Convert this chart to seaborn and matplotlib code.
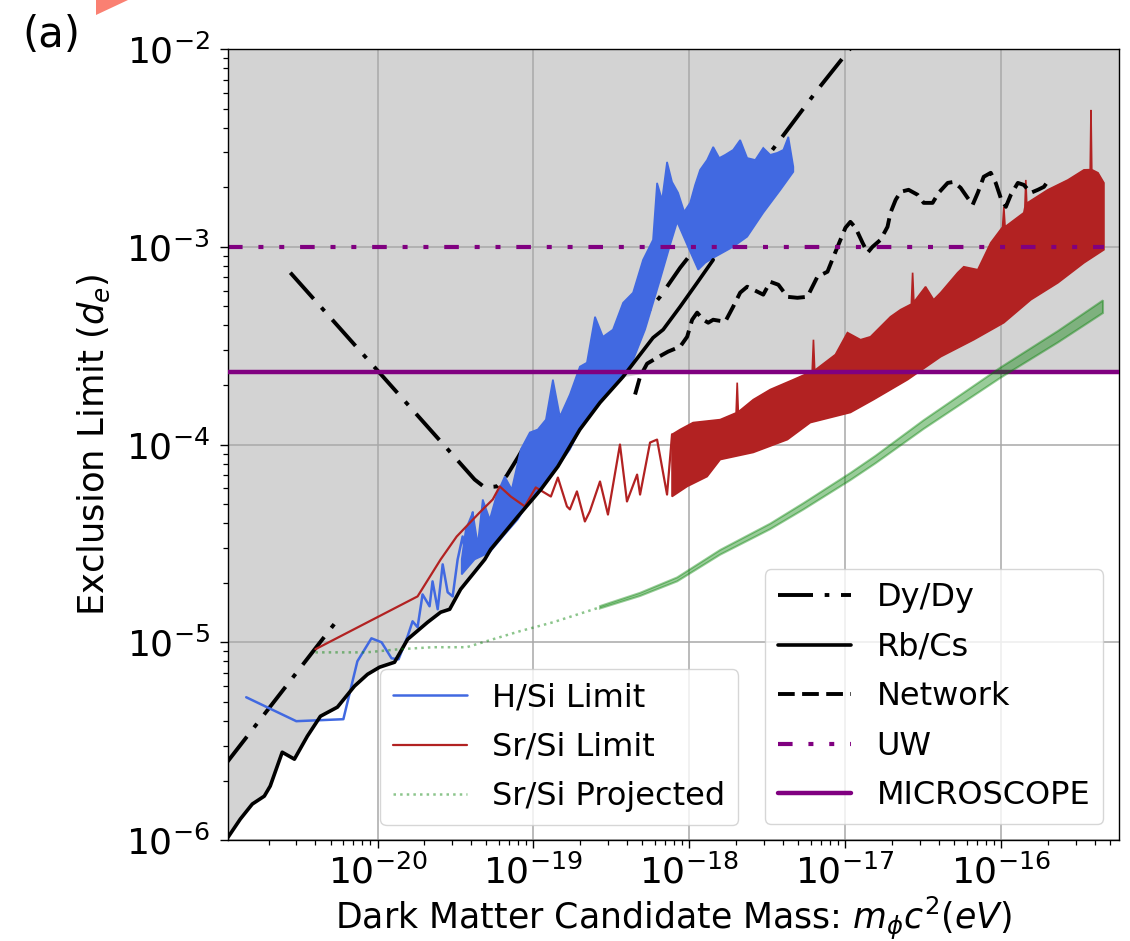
import numpy as np
import matplotlib
matplotlib.use("Agg")
import matplotlib.pyplot as plt
from matplotlib.patches import Polygon
from matplotlib.ticker import NullFormatter, FixedLocator
import seaborn as sns

# ---------------- data (log10 of mass in eV, log10 of d_e limit) ----------------
rbcs_log_mass = [-20.975, -20.880, -20.803, -20.726, -20.688, -20.611, -20.533, -20.450,
                 -20.366, -20.257, -20.148, -20.064, -19.987, -19.891, -19.807, -19.679,
                 -19.595, -19.537, -19.467, -19.312, -19.274, -19.100, -18.952, -18.843,
                 -18.702, -18.573, -18.425, -18.233, -18.168, -18.059, -17.950, -17.847]
rbcs_log_limit = [-6.005, -5.894, -5.818, -5.778, -5.727, -5.556, -5.591, -5.475,
                  -5.374, -5.328, -5.222, -5.162, -5.126, -5.101, -4.985, -4.899,
                  -4.848, -4.833, -4.732, -4.581, -4.530, -4.364, -4.227, -4.111,
                  -3.924, -3.788, -3.657, -3.460, -3.419, -3.303, -3.182, -3.066]

dydy_low_log_mass = [-20.975, -20.244]
dydy_low_log_limit = [-5.617, -4.874]
dydy_high_log_mass = [-20.559, -19.377, -19.312, -19.235, -19.171, -19.100, -19.036, -18.959,
                      -18.856, -18.188, -18.059, -17.564, -17.371, -17.179, -16.970]
dydy_high_log_limit = [-3.131, -4.177, -4.217, -4.212, -4.157, -4.066, -3.980, -3.924,
                       -3.889, -3.253, -3.106, -2.611, -2.409, -2.207, -2.000]

network_log_mass = [-18.348, -18.316, -18.271, -18.207, -18.136, -18.059, -18.014, -17.982,
                    -17.950, -17.911, -17.879, -17.847, -17.770, -17.719, -17.674, -17.629,
                    -17.564, -17.526, -17.481, -17.429, -17.371, -17.307, -17.243, -17.179,
                    -17.114, -17.076, -17.031, -16.999, -16.967, -16.934, -16.889, -16.857,
                    -16.825, -16.774, -16.729, -16.710, -16.677, -16.645, -16.594, -16.536,
                    -16.497, -16.440, -16.401, -16.343, -16.305, -16.260, -16.215, -16.183,
                    -16.150, -16.112, -16.067, -16.035, -16.003, -15.970, -15.938, -15.893,
                    -15.855, -15.810, -15.765, -15.726, -15.694]
network_log_limit = [-3.747, -3.657, -3.591, -3.561, -3.530, -3.505, -3.455, -3.369,
                     -3.333, -3.369, -3.384, -3.369, -3.379, -3.303, -3.232, -3.202,
                     -3.227, -3.242, -3.177, -3.192, -3.253, -3.258, -3.253, -3.152,
                     -3.126, -3.051, -2.965, -2.904, -2.874, -2.904, -2.980, -3.030,
                     -3.000, -2.965, -2.899, -2.828, -2.763, -2.722, -2.712, -2.737,
                     -2.778, -2.778, -2.727, -2.677, -2.672, -2.702, -2.753, -2.788,
                     -2.727, -2.646, -2.626, -2.677, -2.753, -2.798, -2.737, -2.677,
                     -2.687, -2.727, -2.712, -2.697, -2.662]

uw_mass = [1.1e-21, 4.56e-16]
uw_limit = [1e-3, 1e-3]
microscope_limit = 2.34e-4

# H/Si limit: resolved low-mass trace, then dense band (upper / lower envelope)
hsi_log_mass = [-20.842, -20.521, -20.219, -20.129, -20.039, -19.974, -19.910, -19.865,
                -19.807, -19.775, -19.743, -19.711, -19.666, -19.647, -19.614, -19.582,
                -19.550, -19.518, -19.486, -19.454, -19.422, -19.389]
hsi_log_limit = [-5.278, -5.399, -5.389, -5.096, -4.980, -5.000, -5.081, -5.086,
                 -4.970, -4.894, -4.924, -4.758, -4.818, -4.692, -4.833, -4.606,
                 -4.747, -4.768, -4.581, -4.465, -4.616, -4.343]
hsi_upper_log_mass = [-19.460, -19.434, -19.389, -19.357, -19.325, -19.280, -19.235, -19.184,
                      -19.139, -19.081, -19.023, -18.972, -18.920, -18.875, -18.830, -18.766,
                      -18.702, -18.657, -18.605, -18.554, -18.490, -18.425, -18.361, -18.297,
                      -18.233, -18.207, -18.175, -18.143, -18.111, -18.072, -18.033, -17.995,
                      -17.963, -17.931, -17.886, -17.847, -17.808, -17.770, -17.719, -17.674,
                      -17.629, -17.577, -17.526, -17.481, -17.436, -17.397, -17.365, -17.333]
hsi_upper_log_limit = [-4.581, -4.429, -4.343, -4.505, -4.278, -4.379, -4.253, -4.162,
                       -4.227, -4.025, -3.939, -3.924, -3.874, -3.672, -3.859, -3.747,
                       -3.606, -3.586, -3.354, -3.455, -3.419, -3.283, -3.232, -3.066,
                       -2.965, -2.677, -2.763, -2.571, -2.672, -2.727, -2.823, -2.778,
                       -2.687, -2.611, -2.561, -2.495, -2.551, -2.535, -2.510, -2.460,
                       -2.551, -2.561, -2.500, -2.535, -2.525, -2.510, -2.444, -2.596]
hsi_lower_log_mass = [-19.460, -19.377, -19.280, -19.184, -19.100, -19.023, -18.952, -18.843,
                      -18.766, -18.702, -18.573, -18.477, -18.380, -18.284, -18.188, -18.123,
                      -18.078, -18.014, -17.943, -17.898, -17.847, -17.719, -17.629, -17.526,
                      -17.416, -17.333]
hsi_lower_log_limit = [-4.657, -4.581, -4.545, -4.455, -4.379, -4.278, -4.227, -4.111,
                       -4.025, -3.924, -3.788, -3.697, -3.611, -3.419, -3.167, -2.990,
                       -2.874, -2.990, -3.116, -3.081, -3.056, -3.000, -2.949, -2.828,
                       -2.712, -2.621]

# Sr/Si limit
srsi_log_mass = [-20.398, -19.743, -19.595, -19.492, -19.344, -19.261, -19.216, -19.145,
                 -19.055, -18.985, -18.888, -18.843, -18.785, -18.766, -18.721, -18.670,
                 -18.638, -18.573, -18.522, -18.445, -18.400, -18.335, -18.316, -18.252,
                 -18.207, -18.143, -18.111]
srsi_log_limit = [-5.035, -4.768, -4.581, -4.465, -4.343, -4.278, -4.212, -4.263,
                  -4.313, -4.217, -4.263, -4.167, -4.313, -4.328, -4.237, -4.389,
                  -4.338, -4.187, -4.354, -4.000, -4.288, -4.152, -4.253, -3.990,
                  -3.975, -4.253, -3.949]
srsi_upper_log_mass = [-18.111, -18.059, -17.976, -17.802, -17.700, -17.693, -17.686, -17.590,
                       -17.481, -17.333, -17.212, -17.204, -17.196, -17.063, -16.986, -16.902,
                       -16.838, -16.710, -16.645, -16.576, -16.568, -16.560, -16.485, -16.433,
                       -16.388, -16.279, -16.240, -16.150, -16.067, -15.991, -15.983, -15.975,
                       -15.855, -15.848, -15.842, -15.836, -15.701, -15.572, -15.469, -15.429,
                       -15.424, -15.419, -15.379, -15.341]
srsi_upper_log_limit = [-3.949, -3.924, -3.889, -3.874, -3.840, -3.687, -3.835, -3.773,
                        -3.722, -3.672, -3.630, -3.470, -3.625, -3.545, -3.434, -3.470,
                        -3.455, -3.354, -3.318, -3.290, -3.131, -3.280, -3.202, -3.268,
                        -3.232, -3.131, -3.101, -3.116, -2.980, -2.900, -2.798, -2.899,
                        -2.828, -2.800, -2.662, -2.780, -2.712, -2.662, -2.611, -2.610,
                        -2.308, -2.610, -2.626, -2.677]
srsi_lower_log_mass = [-18.111, -18.014, -17.886, -17.802, -17.590, -17.371, -17.224, -16.967,
                       -16.819, -16.600, -16.388, -16.176, -15.983, -15.810, -15.636, -15.469,
                       -15.341]
srsi_lower_log_limit = [-4.263, -4.212, -4.162, -4.076, -4.040, -3.975, -3.889, -3.838,
                        -3.773, -3.672, -3.556, -3.470, -3.384, -3.268, -3.182, -3.081,
                        -3.015]

# Sr/Si projected
proj_log_mass = [-20.398, -20.071, -19.859, -19.647, -19.428, -19.261, -19.087, -18.875,
                 -18.573]
proj_log_limit = [-5.051, -5.051, -5.035, -5.025, -5.025, -4.985, -4.944, -4.899,
                  -4.823]
proj_band_log_mass = [-18.573, -18.316, -18.078, -17.802, -17.481, -17.269, -16.967, -16.806,
                      -16.497, -16.003, -15.636, -15.347]
proj_band_upper = [-4.817, -4.750, -4.672, -4.533, -4.400, -4.297, -4.144, -4.057,
                   -3.877, -3.610, -3.426, -3.271]
proj_band_lower = [-4.829, -4.766, -4.692, -4.557, -4.428, -4.329, -4.180, -4.095,
                   -3.921, -3.662, -3.484, -3.335]

x_limits = (1.1e-21, 5.7e-16)
y_limits = (1e-6, 1e-2)
x_major_ticks = [1e-20, 1e-19, 1e-18, 1e-17, 1e-16]
y_major_ticks = [1e-6, 1e-5, 1e-4, 1e-3, 1e-2]

legend_main = ["Dy/Dy", "Rb/Cs", "Network", "UW", "MICROSCOPE"]
legend_this = ["H/Si Limit", "Sr/Si Limit", "Sr/Si Projected"]


def p10(a):
    return 10.0 ** np.asarray(a, dtype=float)


# ---------------- style ----------------
sns.set_style("ticks")
plt.rcParams['font.family'] = ['DejaVu Sans']
plt.rcParams['mathtext.fontset'] = 'dejavusans'
for key in ['text.color', 'axes.labelcolor', 'xtick.color', 'ytick.color', 'axes.edgecolor']:
    plt.rcParams[key] = 'black'

fig = plt.figure(figsize=(11.3, 9.41), dpi=100)
ax = fig.add_axes([0.2018, 0.1073, 0.7885, 0.8406])
ax.set_xscale('log')
ax.set_yscale('log')
ax.set_xlim(*x_limits)
ax.set_ylim(*y_limits)

PURPLE = '#800080'
BLUE = 'royalblue'
RED = 'firebrick'
GREEN = 'green'

# excluded (gray) region: above min(Rb/Cs, MICROSCOPE)
rb_m = p10(rbcs_log_mass)
rb_d = p10(rbcs_log_limit)
fill_x = np.append(rb_m, x_limits[1])
fill_y = np.append(np.minimum(rb_d, microscope_limit), microscope_limit)
ax.fill_between(fill_x, fill_y, y_limits[1], color='lightgray', lw=0, zorder=0.3)

ax.grid(True, which='major', color='#a8a8a8', lw=1.1, zorder=0.6)
ax.set_axisbelow(True)

handles = {}

# Dy/Dy
sns.lineplot(x=p10(dydy_low_log_mass), y=p10(dydy_low_log_limit), ax=ax, color='black',
             lw=2.8, linestyle=(0, (9, 3, 1.2, 3)), sort=False, estimator=None, zorder=2.0)
sns.lineplot(x=p10(dydy_high_log_mass), y=p10(dydy_high_log_limit), ax=ax, color='black',
             lw=2.8, linestyle=(0, (9, 3, 1.2, 3)), sort=False, estimator=None, zorder=2.0)
handles["Dy/Dy"] = ax.lines[-1]

# H/Si
sns.lineplot(x=p10(hsi_log_mass), y=p10(hsi_log_limit), ax=ax, color=BLUE, lw=1.8,
             sort=False, estimator=None, zorder=2.1)
handles["H/Si Limit"] = ax.lines[-1]
bx = np.concatenate([p10(hsi_upper_log_mass), p10(hsi_lower_log_mass)[::-1]])
by = np.concatenate([p10(hsi_upper_log_limit), p10(hsi_lower_log_limit)[::-1]])
ax.fill(bx, by, color=BLUE, lw=1.2, zorder=2.1)

# Sr/Si
sns.lineplot(x=p10(srsi_log_mass), y=p10(srsi_log_limit), ax=ax, color=RED, lw=1.6,
             sort=False, estimator=None, zorder=2.2)
handles["Sr/Si Limit"] = ax.lines[-1]
rx = np.concatenate([p10(srsi_upper_log_mass), p10(srsi_lower_log_mass)[::-1]])
ry = np.concatenate([p10(srsi_upper_log_limit), p10(srsi_lower_log_limit)[::-1]])
ax.fill(rx, ry, color=RED, lw=1.2, zorder=2.2)

# Rb/Cs
sns.lineplot(x=rb_m, y=rb_d, ax=ax, color='black', lw=2.6, sort=False,
             estimator=None, zorder=2.3)
handles["Rb/Cs"] = ax.lines[-1]

# Network
sns.lineplot(x=p10(network_log_mass), y=p10(network_log_limit), ax=ax, color='black',
             lw=2.8, linestyle=(0, (4.3, 1.9)), sort=False, estimator=None, zorder=2.4)
handles["Network"] = ax.lines[-1]

# UW
sns.lineplot(x=uw_mass, y=uw_limit, ax=ax, color=PURPLE, lw=3.0,
             linestyle=(0, (3.5, 3.8, 1.2, 3.8, 1.2, 3.8)), sort=False, estimator=None,
             zorder=2.5)
handles["UW"] = ax.lines[-1]

# MICROSCOPE
handles["MICROSCOPE"] = ax.axhline(microscope_limit, color=PURPLE, lw=3.2, zorder=2.6)

# Sr/Si projected
sns.lineplot(x=p10(proj_log_mass), y=p10(proj_log_limit), ax=ax, color=GREEN, alpha=0.45,
             lw=1.8, linestyle=':', sort=False, estimator=None, zorder=2.7)
handles["Sr/Si Projected"] = ax.lines[-1]
gx = np.concatenate([p10(proj_band_log_mass), p10(proj_band_log_mass)[::-1]])
gy = np.concatenate([p10(proj_band_upper), p10(proj_band_lower)[::-1]])
ax.fill(gx, gy, color=GREEN, alpha=0.4, lw=1.5, zorder=2.7)

# ---------------- axes cosmetics ----------------
ax.xaxis.set_major_locator(FixedLocator(x_major_ticks))
ax.yaxis.set_major_locator(FixedLocator(y_major_ticks))
ax.xaxis.set_minor_formatter(NullFormatter())
ax.yaxis.set_minor_formatter(NullFormatter())
ax.tick_params(which='major', labelsize=26, length=6, width=1.0, direction='out',
               colors='black')
ax.tick_params(which='minor', length=3.5, width=0.9, direction='out', colors='black')
ax.tick_params(axis='y', which='major', pad=7)
ax.tick_params(axis='x', which='major', pad=4)
for s in ax.spines.values():
    s.set_color('black')
    s.set_linewidth(1.0)

ax.set_xlabel(r"Dark Matter Candidate Mass: $m_{\phi}c^2(eV)$", fontsize=25, labelpad=3)
ax.set_ylabel(r"Exclusion Limit ($d_e$)", fontsize=25.5, labelpad=10)

leg1 = ax.legend([handles[k] for k in legend_this], legend_this, loc='lower left',
                 bbox_to_anchor=(0.171, 0.019), borderaxespad=0, fontsize=23,
                 handlelength=2.3, labelspacing=0.58)
leg1.set_zorder(5)
ax.add_artist(leg1)
leg2 = ax.legend([handles[k] for k in legend_main], legend_main, loc='lower right',
                 fontsize=23, handlelength=2.3, labelspacing=0.58)
leg2.set_zorder(5)

fig.text(0.0195, 0.963, "(a)", fontsize=30, ha='left', va='center')
fig.patches.append(Polygon([[96 / 1130, 1.0], [96 / 1130, 1 - 15 / 941], [128 / 1130, 1.0]],
                           closed=True, transform=fig.transFigure, color='salmon', lw=0))

fig.savefig("out.png", dpi=100)
